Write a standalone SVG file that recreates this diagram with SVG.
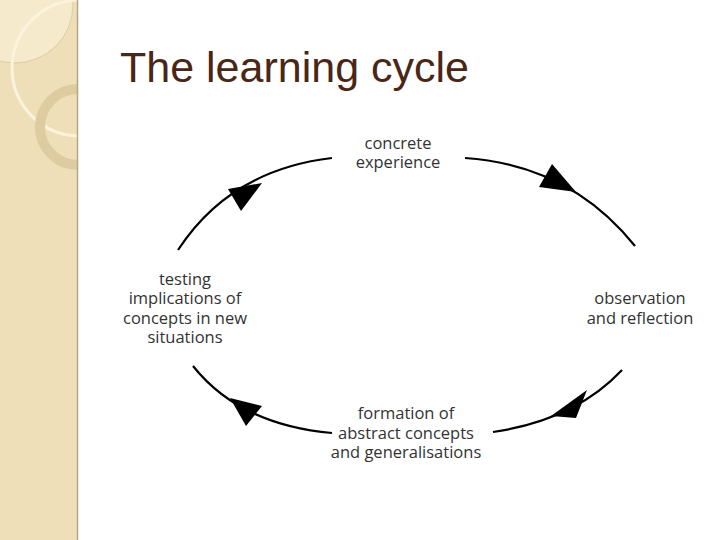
<svg xmlns="http://www.w3.org/2000/svg" width="720" height="540" viewBox="0 0 720 540">
<style>
.l{font-family:"Open Sans","DejaVu Sans",sans-serif;font-size:16.5px;fill:#333;text-anchor:middle}
.c{fill:none;stroke:#000;stroke-width:2.2}
</style>
<defs><clipPath id="cp"><rect x="0" y="0" width="78" height="540"/></clipPath></defs>
<rect width="720" height="540" fill="#fff"/>
<g id="strip">
<rect x="0" y="0" width="78" height="540" fill="#efdfb8"/>
<g clip-path="url(#cp)">
<circle cx="15" cy="5" r="58" fill="#f5eacc" stroke="#cdbb90" stroke-width="0.6"/>
<circle cx="80" cy="68" r="68" fill="none" stroke="#fbf3dc" stroke-width="3"/>
<circle cx="78" cy="127" r="38" fill="none" stroke="#ddcca0" stroke-width="10"/>
</g>
<line x1="77.5" y1="0" x2="77.5" y2="540" stroke="#b8a680" stroke-width="1.5"/>
</g>
<text x="120" y="82" font-family="Liberation Sans,Arial,sans-serif" font-size="43" fill="#4a2616">The learning cycle</text>
<g id="connectors">
<path class="c" d="M465,158 Q570,165 635,246"/>
<polygon points="552,164 539,187 576,192"/>
<path class="c" d="M622,370 Q575,420 493,432"/>
<polygon points="587,390 576,418 551,416"/>
<path class="c" d="M332,433 Q240,425 193,366"/>
<polygon points="230,398 262,406 246,426"/>
<path class="c" d="M178,250 Q230,170 332,158"/>
<polygon points="262,183 228,189 241,211"/>
</g>
<g id="n1"><text class="l" x="398" y="149">concrete</text><text class="l" x="398" y="168">experience</text></g>
<g id="n2"><text class="l" x="640" y="304">observation</text><text class="l" x="640" y="324">and reflection</text></g>
<g id="n3"><text class="l" x="406" y="419">formation of</text><text class="l" x="406" y="439">abstract concepts</text><text class="l" x="406" y="458">and generalisations</text></g>
<g id="n4"><text class="l" x="185" y="285">testing</text><text class="l" x="185" y="304">implications of</text><text class="l" x="185" y="324">concepts in new</text><text class="l" x="185" y="343">situations</text></g>
</svg>
